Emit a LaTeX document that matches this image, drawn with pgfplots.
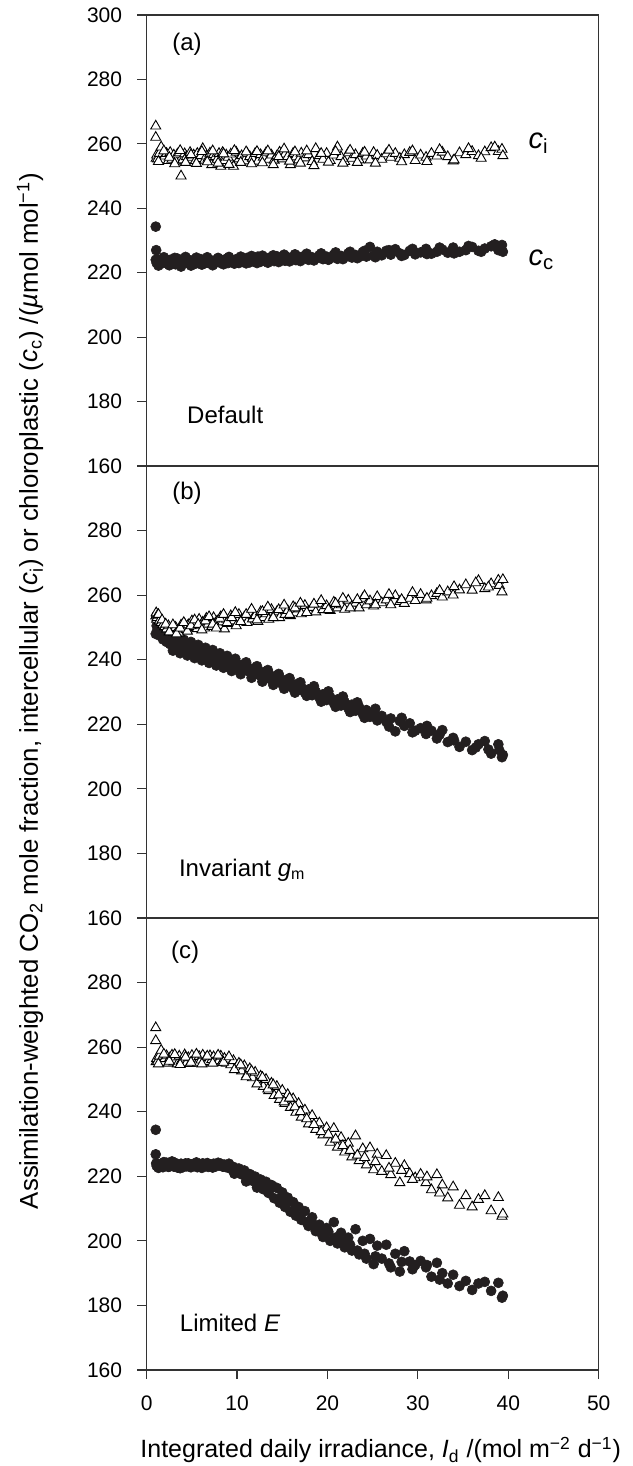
\documentclass[border=0pt]{standalone}
\usepackage{pgfplots}
\pgfplotsset{compat=1.18}
\usepackage{pgfplotstable}
\usepackage{fontspec}
\setmainfont{Liberation Sans}
\setsansfont{Liberation Sans}
\definecolor{dot}{HTML}{231F20}
\definecolor{frm}{HTML}{333333}

% Panel (a): Default
\pgfplotstableread{
x ci cc
1.0 262.0 224.0
1.0 265.5 234.3
1.05 255.5 227.0
1.1 256.5 223.0
1.2 255.3 224.2
1.4 257.0 222.8
1.6 259.0 223.8
1.8 255.0 223.0
2.0 256.2 224.3
2.2 257.0 223.3
2.4 254.8 222.7
2.6 257.3 224.0
2.8 255.2 223.2
3.0 256.5 223.9
3.2 254.6 222.6
3.4 256.8 224.4
3.6 257.2 223.5
3.8 250.0 221.9
4.0 255.0 223.1
4.2 256.9 224.1
4.4 256.0 223.3
4.6 255.2 222.9
4.8 257.3 223.8
5.0 255.8 223.2
5.2 256.5 224.0
5.4 254.8 222.8
5.6 257.0 223.6
5.8 255.4 223.0
6.0 256.3 224.2
6.2 258.5 223.4
6.4 254.9 222.9
6.6 256.2 223.7
6.8 255.5 223.1
7.0 257.1 224.0
7.2 253.5 223.3
7.4 256.6 222.8
7.6 256.0 223.9
7.8 255.2 223.4
8.0 257.0 224.1
8.2 253.0 223.0
8.4 257.3 223.7
8.6 254.8 223.2
8.8 256.5 224.3
9.0 255.8 223.0
9.3 256.8 223.8
9.6 253.0 223.3
9.9 257.4 224.2
10.2 255.3 223.0
10.5 256.3 224.0
10.8 254.7 223.5
11.1 257.1 224.6
11.4 256.0 223.2
11.7 255.5 224.1
12.0 257.0 223.6
12.3 254.6 225.0
12.6 256.6 223.4
12.9 255.8 224.2
13.2 257.2 223.8
13.5 255.2 224.6
13.8 256.5 224.0
14.1 254.9 223.6
14.4 256.2 225.1
14.7 257.4 224.0
15.0 255.3 224.5
15.3 256.8 223.7
15.6 256.0 224.8
15.9 253.5 224.1
16.2 257.0 224.9
16.5 255.9 223.9
16.8 255.0 225.0
17.1 257.1 224.3
17.5 255.6 225.3
17.9 256.6 224.0
18.3 254.5 224.8
18.7 258.5 224.4
19.1 256.3 225.4
19.5 255.2 224.2
19.9 257.0 225.0
20.3 254.8 224.5
20.7 256.5 225.6
21.1 259.0 224.3
21.5 256.0 225.2
21.9 254.5 224.8
22.3 257.2 226.0
22.7 255.5 224.7
23.1 256.6 225.5
23.5 255.0 224.9
23.9 257.0 226.4
24.3 256.2 225.0
24.7 255.0 228.0
25.1 257.3 225.3
25.5 256.4 226.5
26.0 255.2 225.4
26.5 256.9 226.8
27.0 255.8 225.6
27.5 257.0 227.3
28.0 255.5 226.0
28.5 256.6 225.5
29.1 257.3 226.8
29.7 254.8 225.7
30.3 256.5 226.3
30.9 255.8 227.4
31.5 257.0 225.9
32.1 256.2 226.5
32.7 257.4 227.2
33.3 256.0 226.2
33.9 254.7 227.8
34.6 257.2 226.5
35.3 256.6 227.0
36.0 257.6 228.0
36.7 256.3 226.8
37.4 257.5 227.5
38.1 258.8 228.2
38.9 257.6 227.0
39.3 258.3 228.6
39.4 256.3 226.5
1.3 254.5 222.2
1.9 257.8 224.8
2.5 255.8 222.3
3.1 253.8 224.6
3.7 257.9 222.4
4.3 254.2 224.9
4.9 256.6 222.2
5.5 253.9 224.7
6.1 257.6 222.5
6.7 254.4 224.8
7.3 257.8 222.3
7.9 254.0 224.6
8.5 256.9 222.6
9.1 253.6 224.9
9.7 257.9 222.8
10.4 254.2 225.0
11.0 257.5 222.9
11.6 253.8 225.2
12.2 257.6 223.0
12.8 254.1 225.3
13.4 257.8 223.1
14.0 253.5 225.4
14.6 256.0 223.3
15.2 258.4 225.6
15.8 254.6 223.5
16.4 257.5 225.7
17.0 254.0 223.6
17.7 257.8 225.9
18.5 253.2 223.8
19.3 257.0 226.0
20.1 254.3 224.0
20.9 257.6 226.3
21.7 254.0 224.2
22.5 258.0 226.5
23.3 254.2 224.5
24.1 257.4 226.8
25.3 254.0 224.8
26.8 258.0 227.0
28.2 254.4 225.2
29.4 257.8 227.4
31.0 254.5 225.8
32.4 258.2 227.8
34.0 255.0 226.0
35.6 258.5 228.3
37.0 255.5 226.5
38.5 259.0 228.8
}\tabA

% Panel (b): Invariant g_m
\pgfplotstableread{
x ci cc
1.0 253.5 248.0
1.05 254.5 253.5
1.1 252.5 250.5
1.15 253.0 252.8
1.2 253.8 249.3
1.4 252.0 247.5
1.6 251.5 248.6
1.8 250.8 246.3
2.0 250.2 247.2
2.2 249.5 245.5
2.4 250.5 246.6
2.6 248.8 244.8
2.8 249.9 246.0
3.0 248.5 244.5
3.2 250.0 245.8
3.4 249.0 243.8
3.6 248.3 245.2
3.8 250.7 243.5
4.0 249.5 244.8
4.2 251.0 242.9
4.4 249.3 244.3
4.6 250.8 242.6
4.8 249.9 243.8
5.0 252.0 242.3
5.2 250.2 243.6
5.4 251.4 241.8
5.6 249.6 243.0
5.8 252.5 241.5
6.0 250.7 242.7
6.2 251.6 241.0
6.4 249.8 242.2
6.6 252.8 240.6
6.8 251.0 241.9
7.0 252.2 240.2
7.2 250.3 241.5
7.4 253.0 239.8
7.6 251.3 241.0
7.8 252.0 239.5
8.0 250.6 240.6
8.2 253.3 239.0
8.4 251.7 240.3
8.6 249.5 238.7
8.8 252.5 239.8
9.0 251.2 238.4
9.3 253.6 239.5
9.6 252.0 237.8
9.9 250.5 238.9
10.2 254.0 237.3
10.5 252.3 238.4
10.8 253.2 236.8
11.1 251.5 237.9
11.4 254.5 236.2
11.7 252.6 237.2
12.0 253.6 235.6
12.3 251.8 236.7
12.6 254.8 235.0
12.9 253.0 236.1
13.2 254.2 234.3
13.5 252.5 235.5
13.8 255.5 233.8
14.1 253.7 234.8
14.4 254.8 233.1
14.7 253.0 234.2
15.0 255.8 232.5
15.3 254.0 233.6
15.6 255.2 231.8
15.9 253.6 232.9
16.2 256.4 231.2
16.5 254.5 232.3
16.8 255.7 230.6
17.1 254.2 231.6
17.5 256.8 229.8
17.9 255.0 230.8
18.3 256.2 229.0
18.7 254.8 230.1
19.1 257.3 228.3
19.5 255.5 229.3
19.9 256.7 227.5
20.3 255.2 228.4
20.7 257.8 226.6
21.1 256.0 227.7
21.5 257.0 225.8
21.9 255.6 226.9
22.3 258.4 225.0
22.7 256.5 226.1
23.1 257.5 224.2
23.5 256.0 225.3
23.9 259.0 223.2
24.3 257.0 224.4
24.7 258.2 222.3
25.1 256.6 223.2
25.5 259.5 221.2
26.0 257.6 222.6
26.5 258.5 220.8
27.0 257.0 221.8
27.5 259.8 217.8
28.0 258.0 221.0
28.5 257.4 219.5
29.1 259.0 220.3
29.7 258.3 218.0
30.3 260.2 218.8
30.9 258.5 217.0
31.5 259.8 218.0
32.1 260.5 215.6
32.7 259.4 218.2
33.3 261.0 214.5
33.9 260.0 215.8
34.6 261.6 213.0
35.3 263.2 214.6
36.0 261.5 212.0
36.7 264.5 213.8
37.4 262.0 214.8
38.1 263.5 210.9
38.9 264.6 213.8
39.0 263.0 212.0
39.3 261.0 209.8
39.4 264.8 210.5
1.3 254.0 251.5
1.7 252.3 249.5
2.1 251.0 248.8
2.5 248.6 247.8
2.9 250.8 242.8
3.3 248.0 247.2
3.7 249.8 242.0
4.1 251.5 246.2
4.5 248.8 241.3
4.9 250.5 245.5
5.3 252.3 240.5
5.7 250.9 244.6
6.1 249.2 239.8
6.5 252.0 243.7
6.9 253.3 239.0
7.3 251.0 243.0
7.7 249.8 238.2
8.1 252.8 242.0
8.5 254.0 237.5
8.9 251.5 241.2
9.4 253.0 236.5
9.8 254.6 240.3
10.4 251.8 235.5
11.0 254.0 239.2
11.6 255.6 234.4
12.2 252.3 238.0
12.8 254.9 233.2
13.4 256.3 236.8
14.0 253.0 232.2
14.6 255.5 235.6
15.2 256.9 231.0
15.8 254.0 234.3
16.4 256.0 229.8
17.0 257.5 233.0
17.7 254.6 228.8
18.5 257.2 231.8
19.3 258.3 227.0
20.1 255.5 230.2
20.9 257.4 225.4
21.7 259.0 228.6
22.5 256.0 223.8
23.3 258.6 226.8
24.1 259.8 222.0
25.3 257.0 224.8
26.8 260.2 219.3
28.2 258.6 222.0
29.4 260.8 217.5
31.0 259.0 219.5
32.4 261.4 216.8
34.0 262.6 215.0
36.4 263.8 212.8
37.8 262.5 212.2
}\tabB

% Panel (c): Limited E
\pgfplotstableread{
x ci cc
1.0 262.0 226.8
1.0 266.0 234.4
1.05 255.5 224.0
1.1 256.5 223.2
1.2 255.6 223.9
1.4 257.2 223.0
1.6 259.0 223.6
1.8 255.2 222.8
2.0 256.4 223.7
2.2 257.3 224.2
2.4 255.0 222.9
2.6 256.8 223.5
2.8 257.5 224.6
3.0 255.4 223.0
3.2 256.9 223.8
3.4 254.8 222.7
3.6 257.2 223.4
3.8 255.6 223.9
4.0 256.3 222.8
4.2 257.6 223.6
4.4 255.1 223.1
4.6 256.7 224.0
4.8 254.9 222.9
5.0 257.4 223.7
5.2 255.8 223.2
5.4 256.6 223.9
5.6 255.0 222.8
5.8 257.1 223.5
6.0 256.0 223.0
6.2 257.5 224.0
6.4 255.3 223.3
6.6 256.8 223.8
6.8 255.5 222.9
7.0 257.3 223.6
7.2 256.1 223.2
7.4 257.0 223.9
7.6 255.2 223.0
7.8 256.9 223.7
8.0 255.8 223.4
8.2 257.2 223.9
8.4 255.6 223.0
8.6 256.5 223.6
8.8 255.0 222.8
9.0 256.3 223.4
9.3 254.5 222.3
9.6 255.8 222.9
9.9 253.6 221.5
10.2 255.0 222.4
10.5 252.6 220.6
10.8 254.2 221.8
11.1 251.5 219.3
11.4 253.3 220.7
11.7 250.5 218.6
12.0 252.2 219.9
12.3 249.0 217.2
12.6 251.0 219.0
12.9 247.8 216.0
13.2 250.0 218.3
13.5 246.5 214.8
13.8 248.8 217.3
14.1 245.0 213.2
14.4 247.8 216.4
14.7 243.8 211.8
15.0 246.6 215.0
15.3 242.5 210.5
15.6 245.3 213.4
15.9 241.3 209.0
16.2 244.0 212.0
16.5 239.8 207.8
16.8 242.5 210.5
17.1 238.3 206.5
17.5 240.5 209.2
17.9 236.2 204.6
18.3 238.8 207.3
18.7 234.5 203.0
19.1 236.5 205.0
19.5 232.8 201.2
19.9 235.0 204.0
20.3 230.5 200.0
20.7 234.8 205.8
21.1 229.0 199.2
21.5 232.0 202.5
21.9 227.5 198.0
22.3 230.2 201.0
22.7 226.0 197.0
23.1 232.5 203.6
23.5 224.8 195.8
23.9 228.5 200.0
24.3 223.5 194.5
24.7 228.8 200.6
25.1 222.0 192.8
25.5 226.8 198.5
26.0 221.5 194.5
26.5 226.4 198.8
27.0 220.5 191.8
27.5 224.0 196.0
28.0 218.0 190.5
28.5 223.3 196.8
29.1 220.8 193.6
29.7 219.5 192.5
30.3 220.6 193.8
30.9 218.0 191.8
31.5 215.8 188.9
32.1 220.5 193.2
32.7 217.3 190.0
33.3 213.3 186.8
33.9 216.7 189.5
34.6 211.0 186.0
35.3 214.0 187.6
36.0 210.5 184.8
36.7 212.8 186.8
37.4 214.0 187.3
38.1 209.3 184.5
38.9 213.4 187.0
39.3 207.6 182.4
39.4 208.3 183.0
1.3 254.8 222.6
1.9 257.8 224.4
2.5 255.6 223.0
3.1 257.7 224.2
3.7 254.6 222.5
4.3 256.9 224.0
4.9 255.3 222.8
5.5 257.8 224.3
6.1 254.8 222.6
6.7 257.2 224.1
7.3 255.0 222.7
7.9 257.5 224.2
8.5 255.3 223.0
9.1 257.0 223.9
9.7 253.0 220.8
10.4 254.5 221.3
11.0 250.8 218.4
11.6 252.6 220.2
12.2 248.6 216.5
12.8 250.6 218.5
13.4 247.0 215.2
14.0 248.3 216.8
14.6 245.2 212.9
15.2 243.0 211.5
15.8 244.2 212.2
16.4 241.5 209.8
17.0 240.0 207.5
17.7 237.8 205.8
18.5 236.0 205.0
19.3 233.8 202.5
20.1 233.0 202.8
20.9 231.5 201.0
21.7 229.5 199.8
22.5 228.0 198.8
23.3 226.5 197.0
24.1 225.8 196.0
25.3 224.5 195.2
26.8 222.5 193.0
28.2 221.8 193.5
29.4 219.0 191.2
31.0 219.8 192.5
32.4 214.8 188.0
}\tabC

\pgfplotsset{
  panel/.style={
    width=226pt, height=226pt, scale only axis,
    anchor=south west,
    xmin=0, xmax=50, ymin=160, ymax=300,
    axis line style={frm, line width=0.6pt},
    every tick/.style={frm, line width=0.6pt},
    tick align=outside, major tick length=4.6pt,
    tick pos=left,
    minor tick num=0,
    /pgf/number format/assume math mode=true,
    ticklabel style={font=\fontsize{10.5}{12}\selectfont, inner sep=0pt},
    yticklabel style={xshift=-7.5pt},
    xticklabel style={yshift=-8pt},
    clip=false,
  },
  dots/.style={only marks, mark=*, mark size=2.5pt,
    mark options={fill=dot, draw=dot, line width=0.3pt}},
  tris/.style={only marks, mark=triangle*, mark size=2.9pt,
    mark options={fill=white, draw=black, line width=0.45pt}},
}

\begin{document}
\begin{tikzpicture}
\useasboundingbox (-73.35pt,-48pt) rectangle (242.65pt,685pt);

% (a)
\begin{axis}[panel, at={(0pt,452pt)}, height=225.5pt, xtick=\empty,
  ytick={160,180,...,300}]
  \addplot[dots] table[x=x,y=cc]{\tabA};
  \addplot[tris] table[x=x,y=ci]{\tabA};
  \node[font=\fontsize{12}{14}\selectfont] at (rel axis cs:0.089,0.934) {(a)};
  \node[font=\fontsize{12}{14}\selectfont, anchor=west] at (rel axis cs:0.074,0.113) {Default};
  \node[font=\fontsize{14.5}{16}\selectfont, anchor=base west, inner sep=0pt] at (rel axis cs:0.844,0.703) {\textit{c}\textsubscript{i}};
  \node[font=\fontsize{14.5}{16}\selectfont, anchor=base west, inner sep=0pt] at (rel axis cs:0.844,0.445) {\textit{c}\textsubscript{c}};
\end{axis}

% (b)
\begin{axis}[panel, at={(0pt,226pt)}, xtick=\empty,
  ytick={160,180,...,280}]
  \addplot[dots] table[x=x,y=cc]{\tabB};
  \addplot[tris] table[x=x,y=ci]{\tabB};
  \node[font=\fontsize{12}{14}\selectfont] at (rel axis cs:0.089,0.94) {(b)};
  \node[font=\fontsize{12}{14}\selectfont, anchor=west] at (rel axis cs:0.056,0.106) {Invariant \textit{g}\textsubscript{m}};
\end{axis}

% (c)
\begin{axis}[panel, at={(0pt,0pt)}, xtick={0,10,...,50},
  ytick={160,180,...,280}]
  \addplot[dots] table[x=x,y=cc]{\tabC};
  \addplot[tris] table[x=x,y=ci]{\tabC};
  \node[font=\fontsize{12}{14}\selectfont] at (rel axis cs:0.085,0.925) {(c)};
  \node[font=\fontsize{12}{14}\selectfont, anchor=west] at (rel axis cs:0.058,0.104) {Limited \textit{E}};
\end{axis}

% axis titles
\node[font=\fontsize{12.9}{15}\selectfont, rotate=90] at (-58.3pt,339.5pt)
  {Assimilation-weighted CO\textsubscript{2} mole fraction, intercellular (\textit{c}\textsubscript{i}) or chloroplastic (\textit{c}\textsubscript{c}) /(\textit{µ}mol mol\textsuperscript{−1})};
\node[font=\fontsize{12.5}{15}\selectfont] at (117pt,-40pt)
  {Integrated daily irradiance, \textit{I}\textsubscript{d} /(mol m\textsuperscript{−2} d\textsuperscript{−1})};
\end{tikzpicture}
\end{document}
